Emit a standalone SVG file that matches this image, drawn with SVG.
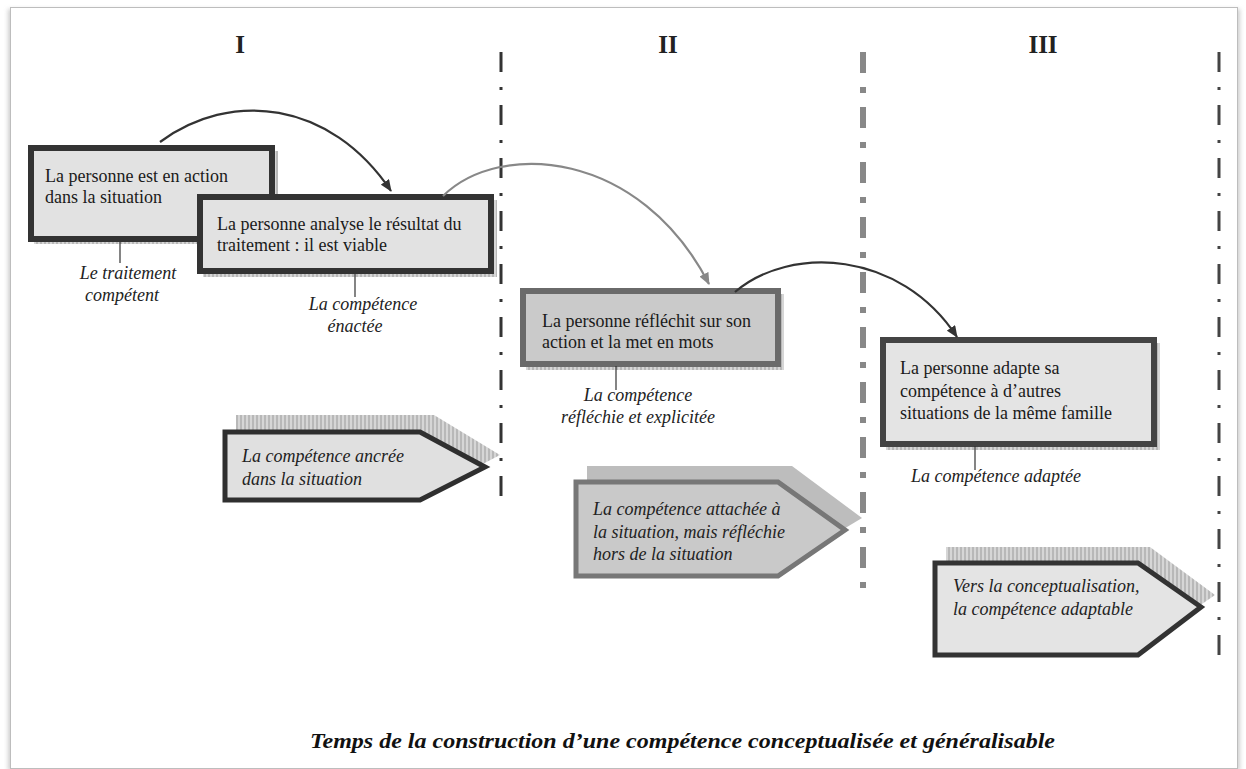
<svg xmlns="http://www.w3.org/2000/svg" width="1246" height="769" viewBox="0 0 1246 769">
  <defs>
    <style>
      .box { font-family: "Liberation Serif", "Times New Roman", serif; font-size: 18px; fill: #1a1a1a; }
      .lbl { font-family: "Liberation Serif", "Times New Roman", serif; font-size: 18px; font-style: italic; fill: #222; }
      .num { font-family: "Liberation Serif", "Times New Roman", serif; font-size: 25px; font-weight: bold; fill: #222; }
      .tick { stroke: #333; stroke-width: 1.2; }
      .sep { fill: none; stroke-width: 3; stroke-dasharray: 20 15 3 15; }
    </style>
    <pattern id="hatch" width="4" height="4" patternUnits="userSpaceOnUse">
      <rect width="4" height="4" fill="#d6d6d6"/>
      <line x1="1" y1="0" x2="1" y2="4" stroke="#9a9a9a" stroke-width="1"/>
    </pattern>
    <marker id="headDark" viewBox="0 0 12 10" refX="11" refY="5" markerWidth="12" markerHeight="10" markerUnits="userSpaceOnUse" orient="auto">
      <path d="M0,0 L12,5 L0,10 Z" fill="#333"/>
    </marker>
    <marker id="headGray" viewBox="0 0 12 10" refX="11" refY="5" markerWidth="12" markerHeight="10" markerUnits="userSpaceOnUse" orient="auto">
      <path d="M0,0 L12,5 L0,10 Z" fill="#888"/>
    </marker>
    <filter id="soft" x="-5%" y="-5%" width="110%" height="110%">
      <feGaussianBlur stdDeviation="2"/>
    </filter>
  </defs>

  <!-- page frame -->
  <rect x="8" y="9" width="1232" height="762" fill="#cfcfcf" filter="url(#soft)"/>
  <rect x="10.5" y="7.5" width="1227" height="761" fill="#ffffff" stroke="#bdbdbd" stroke-width="1"/>

  <!-- phase numerals -->
  <g id="phases">
    <text class="num" x="240" y="53" text-anchor="middle">I</text>
    <text class="num" x="668" y="53" text-anchor="middle">II</text>
    <text class="num" x="1043" y="53" text-anchor="middle">III</text>
  </g>

  <!-- phase separators -->
  <g id="separators">
    <line class="sep" x1="501" y1="52" x2="501" y2="502" stroke="#333"/>
    <line x1="863" y1="52" x2="863" y2="598" stroke="#888" stroke-width="6" stroke-dasharray="21 14 6 14" fill="none"/>
    <line class="sep" x1="1219" y1="52" x2="1219" y2="666" stroke="#444"/>
  </g>

  <!-- phase I : action -->
  <g id="box-action">
    <rect x="34" y="151" width="244" height="93" fill="url(#hatch)"/>
    <rect x="31" y="148" width="241" height="91" fill="#e2e2e2" stroke="#333" stroke-width="6"/>
    <text class="box" x="45" y="182">La personne est en action</text>
    <text class="box" x="45" y="203">dans la situation</text>
    <line class="tick" x1="120" y1="242" x2="120" y2="263"/>
    <text class="lbl" x="128" y="279" text-anchor="middle">Le traitement</text>
    <text class="lbl" x="122" y="301" text-anchor="middle">compétent</text>
  </g>

  <g id="box-analyse">
    <rect x="203" y="200" width="294" height="77" fill="url(#hatch)"/>
    <rect x="200" y="197" width="291" height="74" fill="#e2e2e2" stroke="#333" stroke-width="6"/>
    <text class="box" x="217" y="230">La personne analyse le résultat du</text>
    <text class="box" x="217" y="251">traitement : il est viable</text>
    <line class="tick" x1="355" y1="274" x2="355" y2="297"/>
    <text class="lbl" x="363" y="310" text-anchor="middle">La compétence</text>
    <text class="lbl" x="355" y="332" text-anchor="middle">énactée</text>
  </g>

  <!-- phase II : reflection -->
  <g id="box-reflechit">
    <rect x="526" y="294" width="258" height="76" fill="url(#hatch)"/>
    <rect x="523" y="291" width="255" height="73" fill="#cacaca" stroke="#6a6a6a" stroke-width="6"/>
    <text class="box" x="542" y="327">La personne réfléchit sur son</text>
    <text class="box" x="542" y="348">action et la met en mots</text>
    <line class="tick" x1="616" y1="366" x2="616" y2="390"/>
    <text class="lbl" x="638" y="401" text-anchor="middle">La compétence</text>
    <text class="lbl" x="638" y="423" text-anchor="middle">réfléchie et explicitée</text>
  </g>

  <!-- phase III : adaptation -->
  <g id="box-adapte">
    <rect x="886" y="343" width="274" height="107" fill="url(#hatch)"/>
    <rect x="883" y="340" width="271" height="104" fill="#e4e4e4" stroke="#444" stroke-width="6"/>
    <text class="box" x="900" y="374">La personne adapte sa</text>
    <text class="box" x="900" y="397">compétence à d’autres</text>
    <text class="box" x="900" y="419">situations de la même famille</text>
    <line class="tick" x1="975" y1="446" x2="975" y2="470"/>
    <text class="lbl" x="911" y="482">La compétence adaptée</text>
  </g>

  <!-- competence stage pentagons -->
  <g id="stage-ancree">
    <path d="M236,415 L434,415 L500,455 L433,490 L236,490 Z" fill="url(#hatch)"/>
    <path d="M225,432 L420,432 L485,467 L420,500 L225,500 Z" fill="#e0e0e0" stroke="#2f2f2f" stroke-width="5" stroke-linejoin="miter"/>
    <text class="lbl" x="242" y="462">La compétence ancrée</text>
    <text class="lbl" x="242" y="485">dans la situation</text>
  </g>

  <g id="stage-attachee">
    <path d="M587,466 L792,466 L862,518 L792,560 L587,560 Z" fill="#bdbdbd"/>
    <path d="M576,482 L778,482 L845,530 L778,576 L576,576 Z" fill="#c9c9c9" stroke="#777" stroke-width="5" stroke-linejoin="miter"/>
    <text class="lbl" x="593" y="515">La compétence attachée à</text>
    <text class="lbl" x="593" y="538">la situation, mais réfléchie</text>
    <text class="lbl" x="593" y="560">hors de la situation</text>
  </g>

  <g id="stage-adaptable">
    <path d="M946,547 L1150,547 L1215,595 L1150,640 L946,640 Z" fill="url(#hatch)"/>
    <path d="M935,563 L1138,563 L1201,607 L1138,655 L935,655 Z" fill="#e4e4e4" stroke="#333" stroke-width="5" stroke-linejoin="miter"/>
    <text class="lbl" x="953" y="592">Vers la conceptualisation,</text>
    <text class="lbl" x="953" y="615">la compétence adaptable</text>
  </g>

  <!-- connectors between steps -->
  <g id="connectors" fill="none" stroke-width="2.2">
    <path d="M160,142 C230,90 330,100 391,191" stroke="#333" marker-end="url(#headDark)"/>
    <path d="M443,196 C500,140 640,150 709,284" stroke="#888" marker-end="url(#headGray)"/>
    <path d="M735,292 C790,245 900,250 957,337" stroke="#333" marker-end="url(#headDark)"/>
  </g>

  <!-- caption -->
  <text x="310" y="748" textLength="745" lengthAdjust="spacingAndGlyphs" font-family="'Liberation Serif', 'Times New Roman', serif" font-size="21" font-weight="bold" font-style="italic" fill="#111">Temps de la construction d’une compétence conceptualisée et généralisable</text>
</svg>
